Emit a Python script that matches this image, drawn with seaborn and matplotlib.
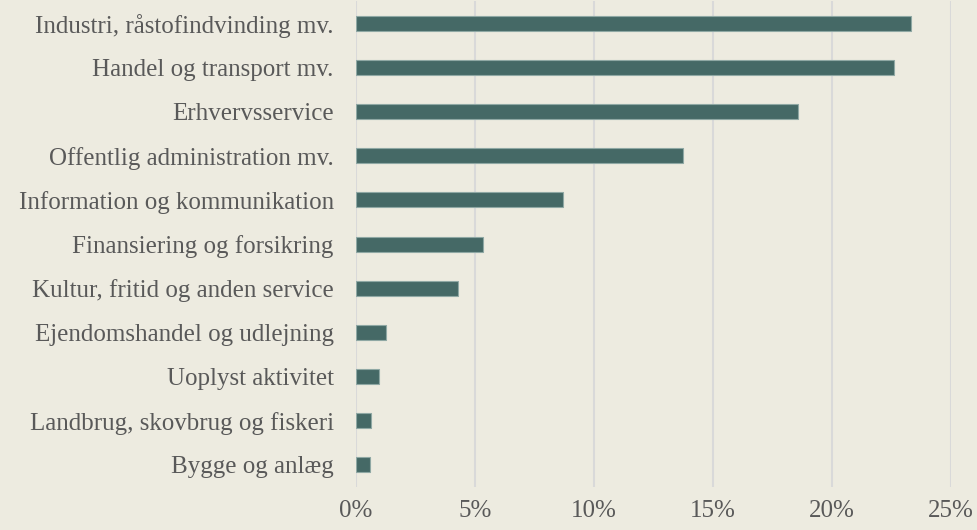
import pandas as pd
import matplotlib.pyplot as plt
import seaborn as sns
from matplotlib.ticker import FuncFormatter

# Andel fordelt på branche
categories = [
    "Industri, råstofindvinding mv.",
    "Handel og transport mv.",
    "Erhvervsservice",
    "Offentlig administration mv.",
    "Information og kommunikation",
    "Finansiering og forsikring",
    "Kultur, fritid og anden service",
    "Ejendomshandel og udlejning",
    "Uoplyst aktivitet",
    "Landbrug, skovbrug og fiskeri",
    "Bygge og anlæg",
]
shares = [23.3, 22.6, 18.55, 13.75, 8.7, 5.35, 4.3, 1.25, 0.95, 0.65, 0.6]
x_ticks = [0, 5, 10, 15, 20, 25]

df = pd.DataFrame({"branche": categories, "andel": shares})

bg = "#EDEBE0"
bar_color = "#456966"
text_color = "#595959"

sns.set_style("white")
plt.rcParams["font.family"] = ["Liberation Serif", "DejaVu Serif"]

fig = plt.figure(figsize=(9.77, 5.30), dpi=100, facecolor=bg)
ax = fig.add_axes([0.3644, 0.081, 0.609, 0.917])
ax.set_facecolor(bg)

sns.barplot(data=df, x="andel", y="branche", orient="h", color=bar_color,
            width=0.34, edgecolor="#8FA8A4", linewidth=0.8, saturation=1, ax=ax)

ax.set_xlim(0, 25)
ax.set_xticks(x_ticks)
ax.xaxis.set_major_formatter(FuncFormatter(lambda v, p: f"{v:.0f}%"))
ax.grid(axis="x", color="#D9D9D9", linewidth=1.5)
ax.set_axisbelow(True)
for s in ax.spines.values():
    s.set_visible(False)

ax.set_xlabel("")
ax.set_ylabel("")
ax.tick_params(axis="both", length=0, labelcolor=text_color)
ax.tick_params(axis="y", labelsize=18, pad=16)
ax.tick_params(axis="x", labelsize=18, pad=9)

plt.savefig("out.png", dpi=100, facecolor=bg)
